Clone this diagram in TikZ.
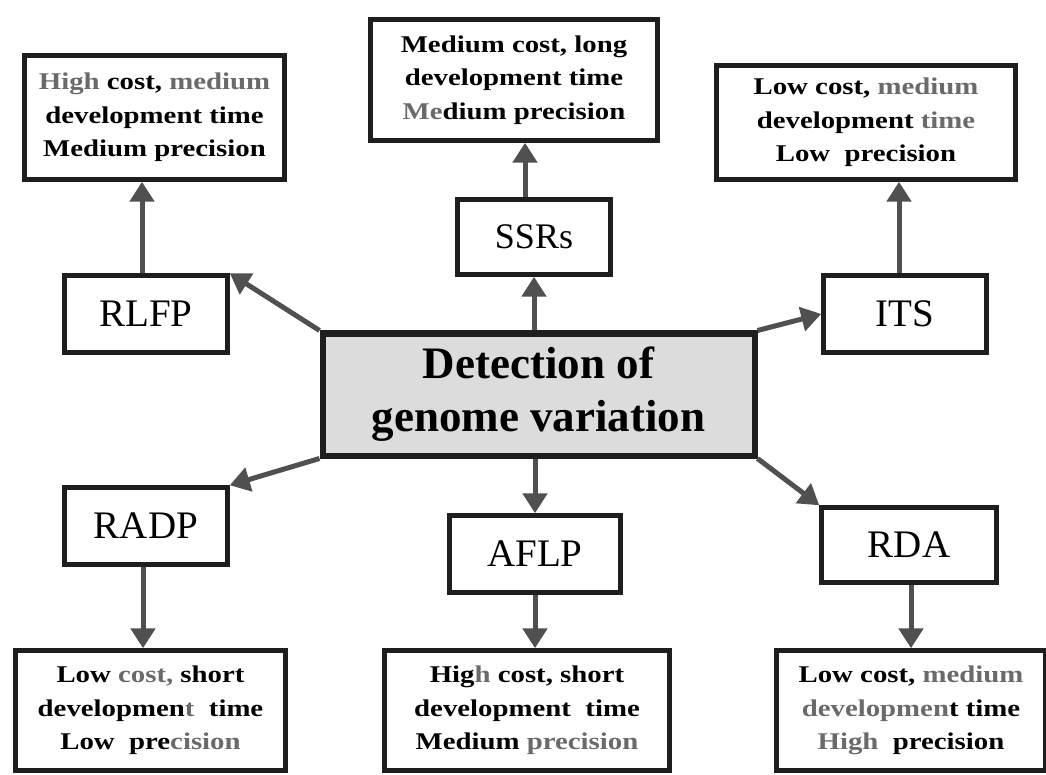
\documentclass[tikz,border=0pt]{standalone}
\usepackage{fontspec}
\setmainfont{Liberation Serif}
\newfontfamily\descfont[FakeStretch=1.2]{Liberation Serif}
\usetikzlibrary{arrows.meta}
\definecolor{arrowgray}{HTML}{505050}
\definecolor{boxline}{HTML}{1E1E1E}
\definecolor{centerfill}{HTML}{DCDCDC}
\definecolor{softtext}{HTML}{6A6A6A}
\newcommand{\sg}[1]{\textcolor{softtext}{#1}}
\begin{document}
\begin{tikzpicture}[x=1pt,y=-1pt,
  method/.style={draw=boxline, line width=4.5pt, fill=white, inner sep=0pt, font=\fontsize{39}{45}\selectfont},
  desc/.style={draw=boxline, line width=4.5pt, fill=white, inner sep=0pt, align=center, font=\descfont\bfseries\fontsize{24}{33.5}\selectfont},
  hub/.style={draw=boxline, line width=6pt, fill=centerfill, inner sep=0pt, align=center, font=\bfseries\fontsize{45}{53}\selectfont},
  link/.style={draw=arrowgray, line width=5pt, -{Triangle[width=24pt,length=20pt]}}
]
\fill[white] (0,0) rectangle (1046,775);
\useasboundingbox (0,0) rectangle (1046,775);

% central node
\node[hub, minimum width=432pt, minimum height=122pt] (c) at (538.5,394.5) {Detection of\\genome variation};

% method nodes
\node[method, minimum width=163pt, minimum height=77pt] (rlfp) at (146,314) {RLFP};
\node[method, minimum width=153pt, minimum height=75pt, font=\fontsize{36}{42}\selectfont] (ssrs) at (534,237) {SSRs};
\node[method, minimum width=163pt, minimum height=77pt] (its) at (905,314) {ITS};
\node[method, minimum width=163pt, minimum height=77pt] (radp) at (146,526) {RADP};
\node[method, minimum width=171pt, minimum height=77pt] (aflp) at (535,554) {AFLP};
\node[method, minimum width=175pt, minimum height=75pt] (rda) at (909,545) {RDA};

% description nodes
\node[desc, minimum width=260pt, minimum height=124pt] (drlfp) at (154.5,117.5)
  {\sg{High} cost, \sg{medium}\\development time\\Medium precision};
\node[desc, minimum width=287pt, minimum height=121pt] (dssrs) at (514,80)
  {Medium cost, long\\development time\\\sg{Me}dium precision};
\node[desc, minimum width=299pt, minimum height=114pt] (dits) at (866,122.5)
  {Low cost, \sg{medium}\\development \sg{time}\\Low\ \ precision};
\node[desc, minimum width=270pt, minimum height=120pt] (dradp) at (150.5,710.5)
  {Low \sg{cost,} short\\developmen\sg{t}\ \ time\\Low\ \ pre\sg{cision}};
\node[desc, minimum width=285pt, minimum height=120pt] (daflp) at (527,710.5)
  {Hig\sg{h} cost, short\\development\ \ time\\Medium \sg{precision}};
\node[desc, minimum width=269pt, minimum height=120pt] (drda) at (911,710.5)
  {Low cost, \sg{medium}\\\sg{developmen}t time\\\sg{High}\ \ precision};

% connectors from the hub
\draw[link] (c.north west) -- (rlfp.north east);
\draw[link] (ssrs.south |- c.north) -- (ssrs.south);
\draw[link] (c.north east) -- (its.west);
\draw[link] (c.south west) -- (radp.north east);
\draw[link] (aflp.north |- c.south) -- (aflp.north);
\draw[link] (c.south east) -- (rda.north west);

% connectors to descriptions
\draw[link] ([xshift=-4pt]rlfp.north) -- ([xshift=-4pt]rlfp.north |- drlfp.south);
\draw[link] ([xshift=-9pt]ssrs.north) -- ([xshift=-9pt]ssrs.north |- dssrs.south);
\draw[link] ([xshift=-6pt]its.north) -- ([xshift=-6pt]its.north |- dits.south);
\draw[link] ([xshift=-3pt]radp.south) -- ([xshift=-3pt]radp.south |- dradp.north);
\draw[link] (aflp.south) -- (aflp.south |- daflp.north);
\draw[link] ([xshift=2pt]rda.south) -- ([xshift=2pt]rda.south |- drda.north);
\end{tikzpicture}
\end{document}
